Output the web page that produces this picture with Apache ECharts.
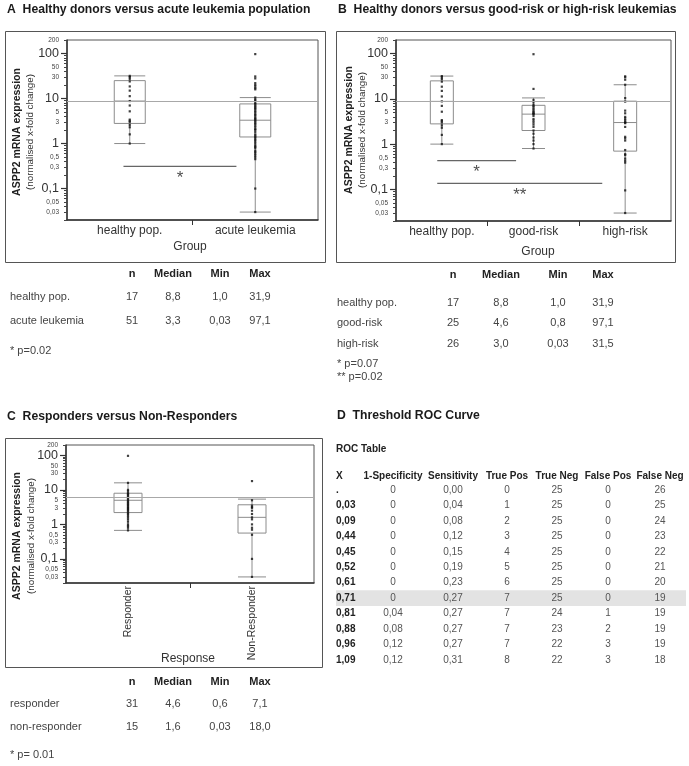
<!DOCTYPE html>
<html><head><meta charset="utf-8">
<script src="https://cdn.jsdelivr.net/npm/echarts@6/dist/echarts.min.js"></script>
<style>html,body{margin:0;padding:0;background:#fff}#c{width:689px;height:766px}</style>
</head><body><div id="c"></div>
<script>
// ================= DATA =================
const yTickValues = [200, 100, 50, 30, 10, 5, 3, 1, 0.5, 0.3, 0.1, 0.05, 0.03];
const yTickLabels = ['200', '100', '50', '30', '10', '5', '3', '1', '0,5', '0,3', '0,1', '0,05', '0,03'];
const yMajorValues = [100, 10, 1, 0.1];
const yMinorTickValues = [0.02, 0.03, 0.04, 0.05, 0.06, 0.07, 0.08, 0.09, 0.1, 0.2, 0.3, 0.4, 0.5, 0.6, 0.7, 0.8, 0.9,
  1, 2, 3, 4, 5, 6, 7, 8, 9, 10, 20, 30, 40, 50, 60, 70, 80, 90, 100, 200];
const yRange = [0.02, 200];

// Panel A
const catA = ['healthy pop.', 'acute leukemia'];
const boxA = [[1.0, 2.8, 8.8, 25, 31.9], [0.03, 1.4, 3.3, 7.6, 10.5]];
const ptsA_healthy = [31.9, 30, 27.5, 24, 18.6, 15, 11.3, 8.8, 7.0, 5.2, 3.4, 3.2, 3.0, 2.6, 2.3, 1.6, 1.0];
const ptsA_leuk = [97.1, 31, 28, 22, 20, 18.5, 17, 16, 10.5, 9.5, 9, 8, 7.5, 7, 6.6, 6.2, 5.8, 5.4, 5, 4.6, 4.3, 4, 3.7,
  3.5, 3.3, 3.1, 2.9, 2.7, 2.5, 2.3, 2.1, 2.0, 1.8, 1.6, 1.5, 1.4, 1.3, 1.2, 1.1, 1.0, 0.9, 0.85, 0.8, 0.7, 0.65, 0.6,
  0.55, 0.5, 0.45, 0.1, 0.03];
const refA = 8.8;
const sigA = [{ from: -0.05, to: 0.85, y: 0.31, text: '*' }];

// Panel B
const catB = ['healthy pop.', 'good-risk', 'high-risk'];
const boxB = [[1.0, 2.8, 8.8, 25, 31.9], [0.8, 2.0, 4.6, 7.2, 10.5], [0.03, 0.7, 3.0, 8.9, 20.5]];
const ptsB_healthy = [31.9, 30, 27.5, 24, 18.6, 15, 11.3, 8.8, 7.0, 5.2, 3.4, 3.2, 3.0, 2.6, 2.3, 1.6, 1.0];
const ptsB_good = [97.1, 16.6, 9.5, 8.5, 7.5, 7, 6.5, 6, 5.5, 5.2, 4.9, 4.7, 4.6, 4.2, 3.6, 3.3, 3.0, 2.7, 2.4, 2.0,
  1.7, 1.4, 1.2, 1.0, 0.8];
const ptsB_high = [31.5, 30, 26.5, 20.5, 10.4, 8.7, 5.5, 4.8, 4.0, 3.7, 3.4, 3.1, 3.0, 2.9, 2.4, 1.45, 1.34, 1.2, 0.74,
  0.6, 0.57, 0.48, 0.43, 0.39, 0.095, 0.03];
const refB = 8.8;
const sigB = [{ from: -0.05, to: 0.81, y: 0.43, text: '*' }, { from: -0.05, to: 1.75, y: 0.136, text: '**' }];

// Panel C
const catC = ['Responder', 'Non-Responder'];
const boxC = [[0.67, 2.2, 5.0, 8.0, 16], [0.03, 0.56, 1.6, 3.7, 5.4]];
const ptsC_resp = [97, 16, 10, 9, 8, 7.5, 7, 6.5, 6, 5.5, 5, 4.6, 4.3, 4, 3.7, 3.5, 3.2, 3, 2.8, 2.6, 2.4, 2.2, 2,
  1.8, 1.6, 1.4, 1.2, 1, 0.9, 0.8, 0.67];
const ptsC_non = [18, 5, 3.5, 3.2, 3, 2.5, 2.0, 1.6, 1.4, 1.0, 0.8, 0.7, 0.5, 0.1, 0.03];
const refC = 6.3;
const sigC = [];

// Stats tables
const statsHeader = ['n', 'Median', 'Min', 'Max'];
const statsA = [['healthy pop.', '17', '8,8', '1,0', '31,9'], ['acute leukemia', '51', '3,3', '0,03', '97,1']];
const notesA = ['* p=0.02'];
const statsB = [['healthy pop.', '17', '8,8', '1,0', '31,9'], ['good-risk', '25', '4,6', '0,8', '97,1'],
  ['high-risk', '26', '3,0', '0,03', '31,5']];
const notesB = ['* p=0.07', '** p=0.02'];
const statsC = [['responder', '31', '4,6', '0,6', '7,1'], ['non-responder', '15', '1,6', '0,03', '18,0']];
const notesC = ['* p= 0.01'];

// ROC table
const rocHeader = ['X', '1-Specificity', 'Sensitivity', 'True Pos', 'True Neg', 'False Pos', 'False Neg'];
const rocX = ['.', '0,03', '0,09', '0,44', '0,45', '0,52', '0,61', '0,71', '0,81', '0,88', '0,96', '1,09'];
const rocOneMinusSpec = ['0', '0', '0', '0', '0', '0', '0', '0', '0,04', '0,08', '0,12', '0,12'];
const rocSensitivity = ['0,00', '0,04', '0,08', '0,12', '0,15', '0,19', '0,23', '0,27', '0,27', '0,27', '0,27', '0,31'];
const rocTruePos = [0, 1, 2, 3, 4, 5, 6, 7, 7, 7, 7, 8];
const rocTrueNeg = [25, 25, 25, 25, 25, 25, 25, 25, 24, 23, 22, 22];
const rocFalsePos = [0, 0, 0, 0, 0, 0, 0, 0, 1, 2, 3, 3];
const rocFalseNeg = [26, 25, 24, 23, 22, 21, 20, 19, 19, 19, 19, 18];
const rocHighlightRow = 7;

// ================= BUILD =================
const FONT = 'Liberation Sans, Arial, sans-serif';
const L = v => Math.log10(v);
const xAxes = [], yAxes = [], grids = [], series = [], graphic = [];

function yLabelFormatter(v) {
  for (let i = 0; i < yTickValues.length; i++) {
    if (Math.abs(L(yTickValues[i]) - v) < 1e-6) {
      const big = yMajorValues.indexOf(yTickValues[i]) >= 0;
      return '{' + (big ? 'b' : 's') + '|' + yTickLabels[i] + '}';
    }
  }
  return '';
}

function panel(cfg) {
  const gi = grids.length;
  grids.push(Object.assign({ show: true, borderColor: '#555', borderWidth: 1, backgroundColor: 'transparent' }, cfg.grid));
  const n = cfg.cats.length;
  const xi = xAxes.length, yi = yAxes.length;
  xAxes.push({
    type: 'category', gridIndex: gi, position: 'bottom', data: cfg.cats,
    axisLine: { onZero: false, lineStyle: { color: '#333', width: 1.5 } },
    axisTick: { show: false },
    axisLabel: { color: '#333', fontSize: cfg.labelSize || 12, fontFamily: FONT, margin: cfg.rotate ? 3 : 5, rotate: cfg.rotate || 0, interval: 0 },
    splitLine: { show: false }
  });
  const bounds = [];
  for (let k = 0; k < n - 1; k++) bounds.push(k + 0.5);
  xAxes.push({
    type: 'value', gridIndex: gi, position: 'bottom', min: -0.5, max: n - 0.5,
    axisLine: { show: false, onZero: false }, axisLabel: { show: false }, splitLine: { show: false },
    axisTick: { show: true, customValues: bounds, length: 5, lineStyle: { color: '#333', width: 1 } }
  });
  yAxes.push({
    type: 'value', gridIndex: gi, position: 'left', min: L(yRange[0]), max: L(yRange[1]),
    axisLine: { show: true, onZero: false, lineStyle: { color: '#333', width: 1.5 } },
    axisTick: { show: true, customValues: yMinorTickValues.map(L), length: 3, lineStyle: { color: '#444', width: 1 } },
    axisLabel: {
      show: true, customValues: yTickValues.map(L), formatter: yLabelFormatter, margin: 8,
      rich: { b: { fontSize: 12.5, color: '#333', fontFamily: FONT }, s: { fontSize: 6.5, color: '#444', fontFamily: FONT } }
    },
    splitLine: { show: false }
  });
  yAxes.push({
    type: 'value', gridIndex: gi, position: 'left', min: L(yRange[0]), max: L(yRange[1]),
    axisLine: { show: false, onZero: false }, axisLabel: { show: false }, splitLine: { show: false },
    axisTick: { show: true, customValues: yMajorValues.map(L), length: 6, lineStyle: { color: '#333', width: 1.2 } }
  });
  series.push({
    type: 'boxplot', xAxisIndex: xi, yAxisIndex: yi, z: 2, silent: true,
    boxWidth: [cfg.boxWidth, cfg.boxWidth],
    data: cfg.boxes.map(r => r.map(L)),
    itemStyle: { color: 'transparent', borderColor: '#8c8c8c', borderWidth: 1 },
    markLine: {
      silent: true, symbol: 'none', label: { show: false },
      lineStyle: { color: '#a8a8a8', type: 'solid', width: 1 },
      data: [{ yAxis: L(cfg.ref) }]
    }
  });
  cfg.points.forEach((pts, ci) => {
    series.push({
      type: 'scatter', xAxisIndex: xi, yAxisIndex: yi, z: 4, silent: true,
      symbol: 'rect', symbolSize: 2.2, itemStyle: { color: '#111' },
      data: pts.map(v => [ci, L(v)])
    });
  });
  cfg.sig.forEach(s => {
    series.push({
      type: 'line', xAxisIndex: xi + 1, yAxisIndex: yi, z: 3, silent: true, symbol: 'none',
      lineStyle: { color: '#666', width: 1.2 },
      data: [[s.from, L(s.y)], [s.to, L(s.y)]]
    });
    series.push({
      type: 'scatter', xAxisIndex: xi + 1, yAxisIndex: yi, z: 3, silent: true,
      symbolSize: 0.1, itemStyle: { color: 'transparent' },
      label: { show: true, position: 'inside', formatter: s.text, fontSize: 17, color: '#222', fontFamily: FONT, offset: [0, 12] },
      data: [[(s.from + s.to) / 2, L(s.y)]]
    });
  });
}

panel({ grid: { left: 67, top: 40, width: 251, height: 180 }, cats: catA, boxes: boxA,
  points: [ptsA_healthy, ptsA_leuk], ref: refA, boxWidth: 31, sig: sigA });
panel({ grid: { left: 396, top: 40, width: 275, height: 181 }, cats: catB, boxes: boxB,
  points: [ptsB_healthy, ptsB_good, ptsB_high], ref: refB, boxWidth: 23, sig: sigB });
panel({ grid: { left: 66, top: 445, width: 248, height: 138 }, cats: catC, boxes: boxC,
  points: [ptsC_resp, ptsC_non], ref: refC, boxWidth: 28, sig: sigC, rotate: 90, labelSize: 10.5 });

// ---- graphic helpers ----
function txt(x, y, text, o) {
  o = o || {};
  graphic.push({
    type: 'text', x: x, y: y, rotation: o.rot || 0, silent: true, z: 10,
    style: {
      text: text, fill: o.color || '#333', fontSize: o.size || 11, fontWeight: o.bold ? 'bold' : 'normal',
      fontFamily: FONT, textAlign: o.align || 'left', verticalAlign: 'middle'
    }
  });
}
function rect(x, y, w, h, stroke, fill) {
  graphic.push({ type: 'rect', silent: true, z: 0, shape: { x: x, y: y, width: w, height: h },
    style: { fill: fill || 'none', stroke: stroke || 'none', lineWidth: 1 } });
}

// Titles
txt(7, 10, 'A  Healthy donors versus acute leukemia population', { bold: true, size: 12.2, color: '#1a1a1a' });
txt(338, 10, 'B  Healthy donors versus good-risk or high-risk leukemias', { bold: true, size: 12.2, color: '#1a1a1a' });
txt(7, 417, 'C  Responders versus Non-Responders', { bold: true, size: 12.2, color: '#1a1a1a' });
txt(337, 416, 'D  Threshold ROC Curve', { bold: true, size: 12.2, color: '#1a1a1a' });

// Outer frames
rect(5.5, 31.5, 320, 231, '#555');
rect(336.5, 31.5, 339, 231, '#555');
rect(5.5, 438.5, 317, 229, '#555');

// Y axis titles
[[17, 30, 132], [349, 362, 130], [17, 31, 536]].forEach(p => {
  txt(p[0], p[2], 'ASPP2 mRNA expression', { bold: true, size: 10.5, rot: Math.PI / 2, align: 'center', color: '#222' });
  txt(p[1], p[2], '(normalised x-fold change)', { size: 9.8, rot: Math.PI / 2, align: 'center', color: '#333' });
});
// X axis names
txt(190, 247, 'Group', { size: 12, align: 'center' });
txt(538, 252, 'Group', { size: 12, align: 'center' });
txt(188, 659, 'Response', { size: 12, align: 'center' });

// Stats tables
function statsTable(labelX, cols, headerY, rowYs, rows, notes, noteYs) {
  statsHeader.forEach((h, i) => txt(cols[i], headerY, h, { bold: true, size: 11, align: 'center', color: '#222' }));
  rows.forEach((r, ri) => {
    txt(labelX, rowYs[ri], r[0], { size: 11, color: '#444' });
    for (let c = 1; c < r.length; c++) txt(cols[c - 1], rowYs[ri], r[c], { size: 11, align: 'center', color: '#444' });
  });
  notes.forEach((nt, i) => txt(labelX, noteYs[i], nt, { size: 11, color: '#444' }));
}
statsTable(10, [132, 173, 220, 260], 274, [297, 321], statsA, notesA, [351]);
statsTable(337, [453, 501, 558, 603], 275, [303, 323, 344], statsB, notesB, [364, 377]);
statsTable(10, [132, 173, 220, 260], 682, [704, 727], statsC, notesC, [755]);

// ROC table
txt(336, 449, 'ROC Table', { bold: true, size: 10, color: '#222' });
const rocColX = [336, 393, 453, 507, 557, 608, 660];
const rocY0 = 490, rocStep = 15.45;
rect(336, rocY0 + rocHighlightRow * rocStep - 7.8, 350, 15.6, null, '#e3e3e3');
rocHeader.forEach((h, i) => txt(rocColX[i], 476, h, { bold: true, size: 10, align: i === 0 ? 'left' : 'center', color: '#222' }));
const rocCols = [rocOneMinusSpec, rocSensitivity, rocTruePos, rocTrueNeg, rocFalsePos, rocFalseNeg];
rocX.forEach((xv, r) => {
  const y = rocY0 + r * rocStep;
  txt(rocColX[0], y, xv, { bold: true, size: 10, color: '#222' });
  rocCols.forEach((col, c) => txt(rocColX[c + 1], y, String(col[r]), { size: 10, align: 'center', color: '#555' }));
});

const chart = echarts.init(document.getElementById('c'), null, { renderer: 'canvas' });
chart.setOption({
  animation: false,
  backgroundColor: '#fff',
  grid: grids, xAxis: xAxes, yAxis: yAxes, series: series, graphic: graphic
});
</script></body></html>
